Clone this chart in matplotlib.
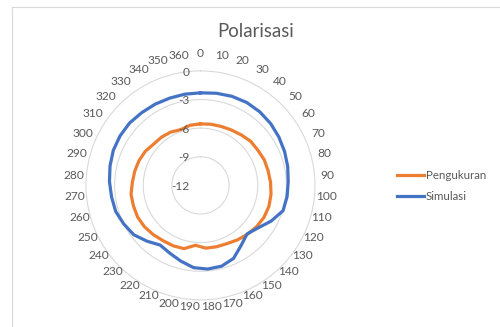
import numpy as np
import matplotlib
matplotlib.use('Agg')
import matplotlib.pyplot as plt
from matplotlib.lines import Line2D

plt.rcParams['font.family'] = ['Lato', 'DejaVu Sans']

# ---- data ----------------------------------------------------------------
categories = list(range(0, 361, 10))          # 0, 10, ..., 360  (37 categories)
pengukuran = [-5.55, -5.5, -5.45, -5.35, -5.2, -5.0, -4.95, -4.8, -4.75, -4.65,
              -4.55, -4.5, -4.55, -4.7, -4.9, -5.1, -5.3, -5.35, -5.4, -5.7,
              -5.15, -5.05, -5.0, -4.85, -4.7, -4.62, -4.65, -4.66, -4.85, -4.95,
              -5.05, -5.2, -5.45, -5.5, -5.6, -5.8, -5.6]
simulasi = [-2.3, -2.2, -2.1, -2.05, -2.1, -2.2, -2.35, -2.5, -2.65, -2.8,
            -2.85, -2.95, -3.7, -4.5, -4.95, -4.4, -3.6, -3.25, -3.2, -3.35,
            -3.8, -4.2, -4.45, -3.9, -3.3, -3.0, -2.7, -2.6, -2.45, -2.3,
            -2.15, -2.1, -2.1, -2.2, -2.25, -2.3, -2.3]
r_ticks = [0, -3, -6, -9, -12]
series = [('Pengukuran', pengukuran, '#ED7D31'), ('Simulasi', simulasi, '#4472C4')]

TXT = '#595959'
GRID = '#d9d9d9'

fig = plt.figure(figsize=(5.0, 3.27), dpi=100)
ax = fig.add_axes([0.172, 0.0829, 0.458, 0.7003], projection='polar')
ax.set_theta_zero_location('N')
ax.set_theta_direction(-1)
ax.set_ylim(-12, 0)

n = len(categories)
theta = np.arange(n) * 2 * np.pi / n
for name, vals, col in series:
    t = np.append(theta, theta[0])
    v = np.append(vals, vals[0])
    ax.plot(t, v, color=col, lw=2.3, label=name, solid_joinstyle='round')

ax.set_xticks([])
ax.set_yticks([-3, -6, -9])
ax.set_yticklabels([])
ax.grid(True, color=GRID, lw=0.8)
ax.spines['polar'].set_color(GRID)
ax.spines['polar'].set_linewidth(0.8)

# category labels around the ring
for th, c in zip(theta, categories):
    g = 8.8
    ax.annotate(str(c), xy=(th, 0), xytext=(g * np.sin(th), g * np.cos(th) + 3.6),
                textcoords='offset points', ha='center', va='center',
                fontsize=8.6, color=TXT, annotation_clip=False)

# radial value labels on the vertical axis
for rv in r_ticks:
    ax.annotate(str(rv), xy=(0, rv), xytext=(-8, -0.8), textcoords='offset points',
                ha='right', va='center', fontsize=8.6, color=TXT, annotation_clip=False)

fig.text(0.512, 0.905, 'Polarisasi', ha='center', va='center', fontsize=13.4, color=TXT)

fig.legend(loc='center left', bbox_to_anchor=(0.793, 0.431), frameon=False,
           fontsize=8.3, handlelength=2.4, handletextpad=0.15, labelspacing=0.8,
           borderpad=0, borderaxespad=0, labelcolor=TXT)

# chart frame edge (partially visible in the crop)
fig.add_artist(Line2D([12 / 500, 1], [1 - 7 / 327, 1 - 7 / 327], color=GRID, lw=0.8))
fig.add_artist(Line2D([12 / 500, 12 / 500], [0, 1 - 7 / 327], color=GRID, lw=0.8))

fig.savefig('out.png', dpi=100)
